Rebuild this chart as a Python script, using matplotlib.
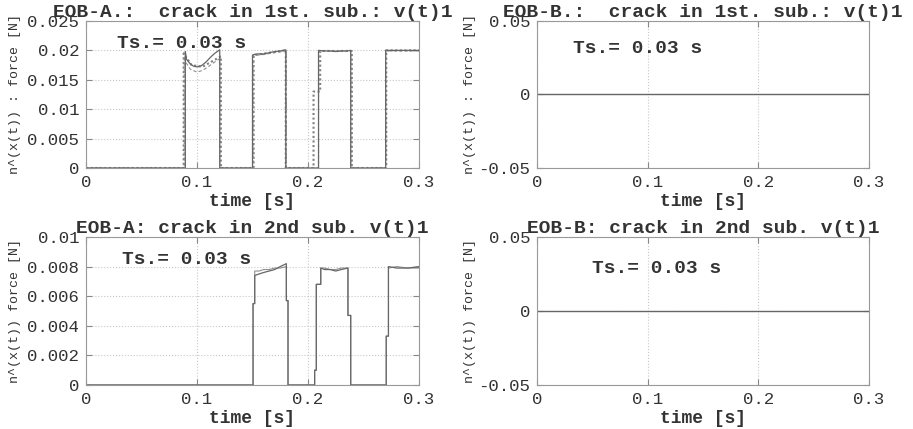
import matplotlib
matplotlib.use("Agg")
import matplotlib.pyplot as plt

plt.rcParams['font.family'] = ['Liberation Mono', 'DejaVu Sans Mono']
plt.rcParams['axes.unicode_minus'] = False

# --- EOB-A, crack in 1st sub (three traces) ---
t_a1 = [0, 0.0895, 0.0895, 0.0905, 0.0935, 0.097, 0.1, 0.104, 0.108, 0.112, 0.116, 0.1205, 0.1205,
        0.15, 0.15, 0.151, 0.155, 0.16, 0.165, 0.17, 0.175, 0.18, 0.18,
        0.2095, 0.2095, 0.215, 0.22, 0.225, 0.23, 0.235, 0.2385, 0.2385,
        0.27, 0.27, 0.3]
f_a1_solid = [0, 0, 0.0198, 0.0185, 0.0178, 0.0173, 0.0172, 0.0174, 0.0180, 0.0188, 0.0195, 0.0201, 0,
              0, 0.0192, 0.0193, 0.0194, 0.0194, 0.0196, 0.0198, 0.0199, 0.0201, 0,
              0, 0.0200, 0.0199, 0.0199, 0.0198, 0.0199, 0.0199, 0.0200, 0,
              0, 0.0200, 0.0200]
t_a1_dash = [0, 0.0885, 0.0885, 0.0905, 0.094, 0.1, 0.105, 0.11, 0.115, 0.1205, 0.1205,
             0.1505, 0.1505, 0.16, 0.17, 0.1805, 0.1805,
             0.2095, 0.2095, 0.2385, 0.2385, 0.27, 0.27, 0.3]
f_a1_dash = [0, 0, 0.0190, 0.0178, 0.0168, 0.0163, 0.0166, 0.0172, 0.0179, 0.0186, 0,
             0, 0.0191, 0.0193, 0.0196, 0.0199, 0,
             0, 0.0199, 0.0199, 0, 0, 0.0199, 0.0199]
t_a1_dot = [0, 0.088, 0.088, 0.095, 0.105, 0.1215, 0.1215,
            0.151, 0.151, 0.18, 0.18,
            0.205, 0.205, 0.211, 0.211, 0.2395, 0.2395,
            0.2705, 0.2705, 0.3]
f_a1_dot = [0, 0, 0.0195, 0.0175, 0.0172, 0.0190, 0,
            0, 0.0192, 0.0200, 0,
            0, 0.0130, 0.0130, 0.0199, 0.0199, 0,
            0, 0.0200, 0.0200]

# --- EOB-A, crack in 2nd sub (two traces) ---
t_a2 = [0, 0.1505, 0.1505, 0.152, 0.152, 0.156, 0.16, 0.165, 0.17, 0.175, 0.1805, 0.1805, 0.182, 0.182,
        0.206, 0.206, 0.2075, 0.2075, 0.2115, 0.2115, 0.215, 0.22, 0.225, 0.23, 0.236, 0.236, 0.2385, 0.2385,
        0.2705, 0.2705, 0.2725, 0.2725, 0.28, 0.29, 0.3]
f_a2_solid = [0, 0, 0.0055, 0.0055, 0.0074, 0.0075, 0.0076, 0.0077, 0.0078, 0.0080, 0.0082, 0.0057, 0.0057, 0,
              0, 0.0010, 0.0010, 0.0068, 0.0068, 0.0079, 0.0078, 0.0078, 0.0077, 0.0078, 0.0079, 0.0047, 0.0047, 0,
              0, 0.0033, 0.0033, 0.0080, 0.0079, 0.0079, 0.0080]
f_a2_other = [0, 0, 0.0055, 0.0055, 0.0077, 0.0077, 0.0078, 0.0078, 0.0079, 0.0079, 0.0080, 0.0057, 0.0057, 0,
              0, 0.0010, 0.0010, 0.0068, 0.0068, 0.0079, 0.0079, 0.0078, 0.0078, 0.0079, 0.0079, 0.0047, 0.0047, 0,
              0, 0.0033, 0.0033, 0.0079, 0.0080, 0.0079, 0.0079]

# --- EOB-B: zero force in both cases ---
t_b = [0, 0.3]
f_b = [0, 0]

titles = ["EOB-A.:  crack in 1st. sub.: v(t)1", "EOB-B.:  crack in 1st. sub.: v(t)1",
          "EOB-A: crack in 2nd sub. v(t)1", "EOB-B: crack in 2nd sub. v(t)1"]
ylabels = ["n^(x(t)) : force [N]", "n^(x(t)) : force [N]",
           "n^(x(t)) force [N]", "n^(x(t)) force [N]"]
xticks = [0, 0.1, 0.2, 0.3]
xticklabels = ['0', '0.1', '0.2', '0.3']
yticks_a1 = [0, 0.005, 0.01, 0.015, 0.02, 0.025]
yticklabels_a1 = ['0', '0.005', '0.01', '0.015', '0.02', '0.025']
yticks_a2 = [0, 0.002, 0.004, 0.006, 0.008, 0.01]
yticklabels_a2 = ['0', '0.002', '0.004', '0.006', '0.008', '0.01']
yticks_b = [-0.05, 0, 0.05]
yticklabels_b = ['-0.05', '0', '0.05']

line_c = '#666666'
text_c = '#333333'

fig = plt.figure(figsize=(9.13, 4.29), dpi=100)
ax_tl = fig.add_axes([0.0942, 0.6084, 0.3647, 0.3427])
ax_tr = fig.add_axes([0.5882, 0.6084, 0.3636, 0.3427])
ax_bl = fig.add_axes([0.0942, 0.1026, 0.3647, 0.345])
ax_br = fig.add_axes([0.5882, 0.1026, 0.3636, 0.345])

ax_tl.plot(t_a1_dot, f_a1_dot, color='#808080', lw=1.5, ls=(0, (1, 1.2)))
ax_tl.plot(t_a1_dash, f_a1_dash, color='#909090', lw=0.8, ls=(0, (3, 2)))
ax_tl.plot(t_a1, f_a1_solid, color=line_c, lw=0.9)
ax_tl.set_ylim(0, 0.025)
ax_tl.set_yticks(yticks_a1, yticklabels_a1)

ax_bl.plot(t_a2, f_a2_other, color='#909090', lw=0.8)
ax_bl.plot(t_a2, f_a2_solid, color=line_c, lw=0.9)
ax_bl.set_ylim(0, 0.01)
ax_bl.set_yticks(yticks_a2, yticklabels_a2)

for ax in (ax_tr, ax_br):
    ax.plot(t_b, f_b, color=line_c, lw=1.0)
    ax.set_ylim(-0.05, 0.05)
    ax.set_yticks(yticks_b, yticklabels_b)

ts_pos = [(0.094, 0.85), (0.108, 0.81), (0.108, 0.85), (0.165, 0.79)]
label_x = [-0.195, -0.185, -0.195, -0.185]

for ax, title, ylab, tp, lx in zip([ax_tl, ax_tr, ax_bl, ax_br], titles, ylabels, ts_pos, label_x):
    ax.set_xlim(0, 0.3)
    ax.set_xticks(xticks, xticklabels)
    ax.grid(True, ls=':', color='#c8c8c8', lw=0.8)
    ax.tick_params(direction='in', length=4, top=True, right=True, colors='#888888',
                   labelcolor=text_c, labelsize=12.5, pad=5)
    for s in ax.spines.values():
        s.set_color('#999999')
    ax.set_title(title, fontsize=14, color=text_c, pad=3, fontweight='bold')
    ax.set_xlabel('time [s]', fontsize=13, color=text_c, fontweight='bold', labelpad=2)
    ax.set_ylabel(ylab, fontsize=9.5, color=text_c)
    ax.yaxis.set_label_coords(lx, 0.5)
    ax.text(tp[0], tp[1], 'Ts.= 0.03 s', transform=ax.transAxes, fontsize=14,
            fontweight='bold', color=text_c, va='center')

fig.savefig('out.png', dpi=100)
